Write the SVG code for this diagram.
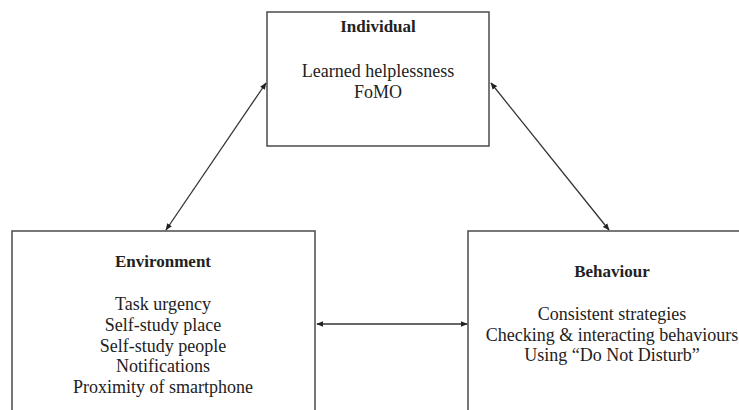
<svg xmlns="http://www.w3.org/2000/svg" width="739" height="410" viewBox="0 0 739 410">
<style>
.box{fill:#fff;stroke:#555;stroke-width:1.6}
.t{font-family:"Liberation Serif","Times New Roman",serif;font-size:18px;fill:#222;text-anchor:middle}
.h{font-weight:bold;font-size:17px}
.c{stroke:#333;stroke-width:1.3;fill:none;marker-start:url(#a);marker-end:url(#a)}
</style>
<defs>
<marker id="a" viewBox="0 0 10 10" refX="9" refY="5" markerWidth="7" markerHeight="7" orient="auto-start-reverse" markerUnits="userSpaceOnUse">
<path d="M0,1 L10,5 L0,9 z" fill="#222"/>
</marker>
</defs>
<rect width="739" height="410" fill="#fff"/>
<g id="individual">
<rect class="box" x="267" y="12" width="222" height="134"/>
<text class="t h" x="378" y="32">Individual</text>
<text class="t" x="378" y="77">Learned helplessness</text>
<text class="t" x="378" y="98">FoMO</text>
</g>
<g id="environment">
<rect class="box" x="12" y="231" width="303" height="200"/>
<text class="t h" x="163" y="267">Environment</text>
<text class="t" x="163" y="310">Task urgency</text>
<text class="t" x="163" y="331">Self-study place</text>
<text class="t" x="163" y="352">Self-study people</text>
<text class="t" x="163" y="372">Notifications</text>
<text class="t" x="163" y="393">Proximity of smartphone</text>
</g>
<g id="behaviour">
<rect class="box" x="468" y="231" width="300" height="200"/>
<text class="t h" x="612" y="277">Behaviour</text>
<text class="t" x="612" y="320">Consistent strategies</text>
<text class="t" x="612" y="341">Checking &amp; interacting behaviours</text>
<text class="t" x="612" y="361">Using “Do Not Disturb”</text>
</g>
<g id="connectors">
<line class="c" x1="166" y1="230" x2="266" y2="83"/>
<line class="c" x1="491" y1="83" x2="609" y2="230"/>
<line class="c" x1="317" y1="324" x2="467" y2="324"/>
</g>
</svg>
